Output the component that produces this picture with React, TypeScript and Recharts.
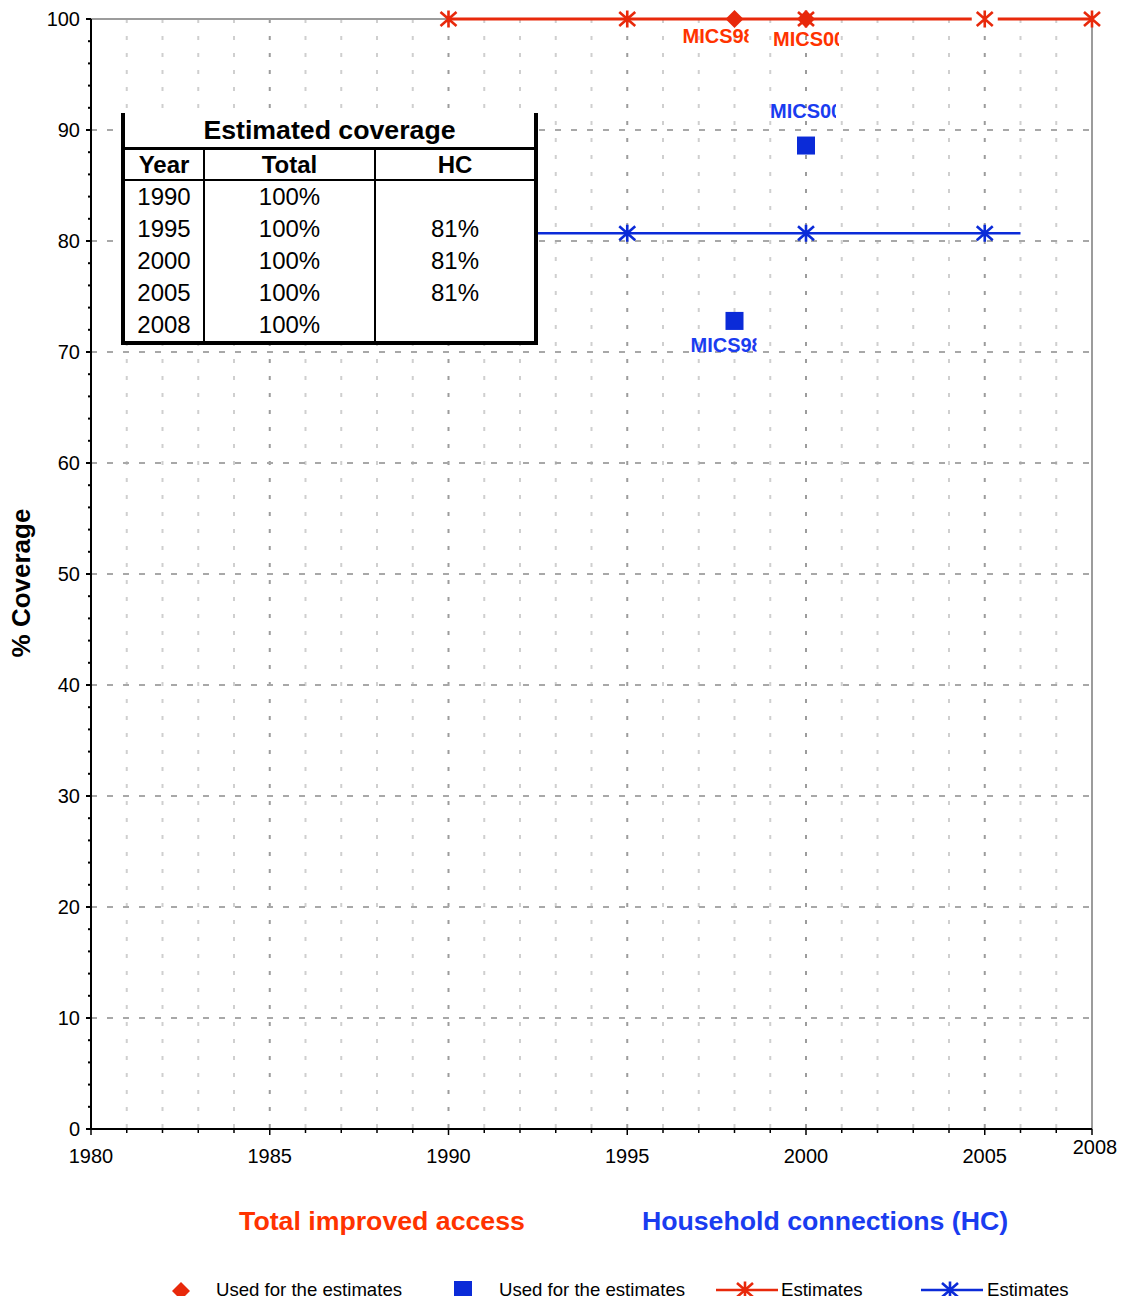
import React from "react";
import { ComposedChart, Line, XAxis, YAxis, CartesianGrid } from "recharts";

const RED = "#e8290b";
const BLUE = "#0b2bd8";
const RED_TEXT = "#ff3300";
const BLUE_TEXT = "#1a3cf0";
const FONT = "Arial, 'Liberation Sans', Helvetica, sans-serif";

// axis ticks
const YEARS = [
  1980, 1981, 1982, 1983, 1984, 1985, 1986, 1987, 1988, 1989, 1990, 1991,
  1992, 1993, 1994, 1995, 1996, 1997, 1998, 1999, 2000, 2001, 2002, 2003,
  2004, 2005, 2006, 2007, 2008,
];
const YEAR_LABELS = [1980, 1985, 1990, 1995, 2000, 2005, 2008];
const MAJOR_YEARS = [1985, 1990, 1995, 2000, 2005];
const MINOR_YEARS = YEARS.filter(
  (y) => y !== 1980 && y !== 2008 && !MAJOR_YEARS.includes(y)
);
const Y_TICKS = [
  0, 2, 4, 6, 8, 10, 12, 14, 16, 18, 20, 22, 24, 26, 28, 30, 32, 34, 36, 38,
  40, 42, 44, 46, 48, 50, 52, 54, 56, 58, 60, 62, 64, 66, 68, 70, 72, 74, 76,
  78, 80, 82, 84, 86, 88, 90, 92, 94, 96, 98, 100,
];
const Y_LABELS = [0, 10, 20, 30, 40, 50, 60, 70, 80, 90, 100];
const Y_GRID = [10, 20, 30, 40, 50, 60, 70, 80, 90];

// series
const TOTAL_ESTIMATES = [
  { year: 1990, value: 100 },
  { year: 1995, value: 100 },
  { year: 2000, value: 100 },
  { year: 2005, value: 100 },
  { year: 2008, value: 100 },
];
const TOTAL_SOURCES = [
  { year: 1998, value: 100, name: "MICS98" },
  { year: 2000, value: 100, name: "MICS00" },
];
const HC_ESTIMATES = [
  { year: 1990, value: 80.7 },
  { year: 1995, value: 80.7 },
  { year: 2000, value: 80.7 },
  { year: 2005, value: 80.7 },
  { year: 2006, value: 80.7 },
];
const HC_MARKED_YEARS = [1995, 2000, 2005];
const HC_SOURCES = [
  { year: 1998, value: 72.8, name: "MICS98" },
  { year: 2000, value: 88.6, name: "MICS00" },
];

// table
const TABLE_YEARS = ["1990", "1995", "2000", "2005", "2008"];
const TABLE_TOTAL = ["100%", "100%", "100%", "100%", "100%"];
const TABLE_HC = ["", "81%", "81%", "81%", ""];

// label placement (dx, dy from the point), and where the red line is broken
const LABEL_OFFSET: Record<string, [number, number]> = {
  "total-MICS98": [-52, 24],
  "total-MICS00": [-33, 27],
  "hc-MICS00": [-36, -28],
  "hc-MICS98": [-44, 31],
};
const RED_LINE_BREAKS = [2005];

function starPath(cx: number, cy: number) {
  return `M${cx} ${cy - 8.5}L${cx} ${cy + 8.5}M${cx - 8} ${cy - 7}L${cx + 8} ${cy + 7}M${cx - 8} ${cy + 7}L${cx + 8} ${cy - 7}`;
}

function SourceLabel({ x, y, text, color }: { x: number; y: number; text: string; color: string }) {
  // the original clips the source names to a fixed box
  return (
    <svg x={x} y={y - 18} width={66} height={24} overflow="hidden">
      <text x={0} y={18} fontSize={20} fontWeight={700} fill={color} fontFamily={FONT}>
        {text}
      </text>
    </svg>
  );
}

function TotalEstDot(props: any) {
  const { cx, cy, payload } = props;
  if (cx == null || cy == null) return <g key="te-none" />;
  return (
    <g key={`te-${payload.year}`}>
      {RED_LINE_BREAKS.includes(payload.year) && (
        <rect x={cx - 13} y={cy - 3} width={26} height={6} fill="#fff" />
      )}
      <path d={starPath(cx, cy)} stroke={RED} strokeWidth={2.6} fill="none" />
    </g>
  );
}

function HcEstDot(props: any) {
  const { cx, cy, payload } = props;
  if (cx == null || cy == null || !HC_MARKED_YEARS.includes(payload.year))
    return <g key={`he-${payload?.year}`} />;
  return (
    <path key={`he-${payload.year}`} d={starPath(cx, cy)} stroke={BLUE} strokeWidth={2.6} fill="none" />
  );
}

function TotalSourceDot(props: any) {
  const { cx, cy, payload } = props;
  if (cx == null || cy == null) return <g key="ts-none" />;
  const [dx, dy] = LABEL_OFFSET[`total-${payload.name}`] ?? [0, 24];
  return (
    <g key={`ts-${payload.name}`}>
      <path d={`M${cx} ${cy - 9}L${cx + 9} ${cy}L${cx} ${cy + 9}L${cx - 9} ${cy}Z`} fill={RED} />
      <SourceLabel x={cx + dx} y={cy + dy} text={payload.name} color={RED_TEXT} />
    </g>
  );
}

function HcSourceDot(props: any) {
  const { cx, cy, payload } = props;
  if (cx == null || cy == null) return <g key="hs-none" />;
  const [dx, dy] = LABEL_OFFSET[`hc-${payload.name}`] ?? [0, 24];
  return (
    <g key={`hs-${payload.name}`}>
      <rect x={cx - 9} y={cy - 9} width={18} height={18} fill={BLUE} />
      <SourceLabel x={cx + dx} y={cy + dy} text={payload.name} color={BLUE_TEXT} />
    </g>
  );
}

function XTick(props: any) {
  const { x, y, payload } = props;
  const v = payload.value as number;
  const major = v % 5 === 0 || v === 2008;
  return (
    <g>
      <line x1={x} x2={x} y1={y} y2={y + (major ? 6 : 4)} stroke="#000" strokeWidth={1.5} />
      {YEAR_LABELS.includes(v) && (
        <text
          x={v === 2008 ? x + 3 : x}
          y={y + (v === 2008 ? 25 : 34)}
          textAnchor="middle"
          fontSize={20}
          fill="#000"
          fontFamily={FONT}
        >
          {v}
        </text>
      )}
    </g>
  );
}

function YTick(props: any) {
  const { x, y, payload } = props;
  const v = payload.value as number;
  const major = Y_LABELS.includes(v);
  return (
    <g>
      <line x1={x - (major ? 5 : 3)} x2={x} y1={y} y2={y} stroke="#000" strokeWidth={2} />
      {major && (
        <text x={x - 11} y={y + 7} textAnchor="end" fontSize={20} fill="#000" fontFamily={FONT}>
          {v}
        </text>
      )}
    </g>
  );
}

function CoverageTable() {
  const cols = [78, 169, 158];
  const cell = (i: number, text: string, bold = false) => (
    <div
      key={i}
      style={{
        width: cols[i],
        borderRight: i < 2 ? "2px solid #000" : "none",
        textAlign: "center",
        fontWeight: bold ? 700 : 400,
      }}
    >
      {text}
    </div>
  );
  return (
    <div
      style={{
        position: "absolute",
        left: 121,
        top: 113,
        width: 417,
        boxSizing: "border-box",
        borderLeft: "4px solid #000",
        borderRight: "4px solid #000",
        borderBottom: "4px solid #000",
        background: "#fff",
        fontFamily: FONT,
        color: "#000",
      }}
    >
      <div
        style={{
          height: 34,
          lineHeight: "34px",
          textAlign: "center",
          fontWeight: 700,
          fontSize: 26.7,
          borderBottom: "3px solid #000",
        }}
      >
        Estimated coverage
      </div>
      <div
        style={{
          display: "flex",
          height: 29,
          lineHeight: "29px",
          fontSize: 24,
          borderBottom: "2px solid #000",
        }}
      >
        {cell(0, "Year", true)}
        {cell(1, "Total", true)}
        {cell(2, "HC", true)}
      </div>
      {TABLE_YEARS.map((yr, r) => (
        <div key={yr} style={{ display: "flex", height: 32, lineHeight: "32px", fontSize: 24 }}>
          {cell(0, yr)}
          {cell(1, TABLE_TOTAL[r])}
          {cell(2, TABLE_HC[r])}
        </div>
      ))}
    </div>
  );
}

function LegendStarLine({ left, color }: { left: number; color: string }) {
  return (
    <svg style={{ position: "absolute", left, top: 1280 }} width={62} height={20}>
      <line x1={0} x2={62} y1={10} y2={10} stroke={color} strokeWidth={2.6} />
      <path d={starPath(29, 10)} stroke={color} strokeWidth={2.6} fill="none" />
    </svg>
  );
}

const legendText = (left: number, text: string) => (
  <div
    style={{
      position: "absolute",
      left,
      top: 1290,
      transform: "translateY(-50%)",
      fontSize: 18.6,
      lineHeight: 1,
      whiteSpace: "nowrap",
    }}
  >
    {text}
  </div>
);

export default function App() {
  return (
    <div
      style={{
        position: "relative",
        margin: -8,
        width: 1127,
        height: 1304,
        background: "#fff",
        fontFamily: FONT,
        color: "#000",
        overflow: "hidden",
      }}
    >
      <ComposedChart width={1127} height={1175} margin={{ top: 19, right: 35, bottom: 0, left: 0 }}>
        <CartesianGrid horizontal={false} verticalValues={MINOR_YEARS} stroke="#cfcfcf" strokeWidth={2} strokeDasharray="4 13" />
        <CartesianGrid horizontal={false} verticalValues={MAJOR_YEARS} stroke="#9c9c9c" strokeWidth={2} strokeDasharray="4 13" />
        <CartesianGrid vertical={false} horizontalValues={Y_GRID} stroke="#a8a8a8" strokeWidth={2} strokeDasharray="6 10" />
        <CartesianGrid horizontalValues={[100]} verticalValues={[2008]} stroke="#9c9c9c" strokeWidth={2} />
        <XAxis
          type="number"
          dataKey="year"
          domain={[1980, 2008]}
          ticks={YEARS}
          interval={0}
          height={46}
          tickSize={0}
          tickMargin={0}
          tickLine={false}
          axisLine={{ stroke: "#000", strokeWidth: 2 }}
          tick={(p: any) => <XTick {...p} />}
        />
        <YAxis
          type="number"
          domain={[0, 100]}
          ticks={Y_TICKS}
          interval={0}
          width={91}
          tickSize={0}
          tickMargin={0}
          tickLine={false}
          axisLine={{ stroke: "#000", strokeWidth: 2 }}
          tick={(p: any) => <YTick {...p} />}
        />
        <Line
          data={HC_ESTIMATES}
          dataKey="value"
          type="linear"
          stroke={BLUE}
          strokeWidth={2.6}
          dot={HcEstDot}
          activeDot={false}
          isAnimationActive={false}
        />
        <Line
          data={HC_SOURCES}
          dataKey="value"
          stroke="none"
          dot={HcSourceDot}
          activeDot={false}
          isAnimationActive={false}
        />
        <Line
          data={TOTAL_ESTIMATES}
          dataKey="value"
          type="linear"
          stroke={RED}
          strokeWidth={3}
          dot={TotalEstDot}
          activeDot={false}
          isAnimationActive={false}
        />
        <Line
          data={TOTAL_SOURCES}
          dataKey="value"
          stroke="none"
          dot={TotalSourceDot}
          activeDot={false}
          isAnimationActive={false}
        />
      </ComposedChart>

      <CoverageTable />

      <div
        style={{
          position: "absolute",
          left: 21,
          top: 583,
          transform: "translate(-50%, -50%) rotate(-90deg)",
          fontSize: 26,
          fontWeight: 700,
          whiteSpace: "nowrap",
        }}
      >
        % Coverage
      </div>

      <div
        style={{
          position: "absolute",
          left: 382,
          top: 1221,
          transform: "translate(-50%, -50%)",
          fontSize: 26.7,
          fontWeight: 700,
          color: RED_TEXT,
          whiteSpace: "nowrap",
        }}
      >
        Total improved access
      </div>
      <div
        style={{
          position: "absolute",
          left: 825,
          top: 1221,
          transform: "translate(-50%, -50%)",
          fontSize: 26.7,
          fontWeight: 700,
          color: BLUE_TEXT,
          whiteSpace: "nowrap",
        }}
      >
        Household connections (HC)
      </div>

      <svg style={{ position: "absolute", left: 171, top: 1281 }} width={20} height={20}>
        <path d="M10 1L19 10L10 19L1 10Z" fill={RED} />
      </svg>
      {legendText(216, "Used for the estimates")}
      <svg style={{ position: "absolute", left: 454, top: 1281 }} width={19} height={19}>
        <rect x={0} y={0} width={18} height={18} fill={BLUE} />
      </svg>
      {legendText(499, "Used for the estimates")}
      <LegendStarLine left={716} color={RED} />
      {legendText(781, "Estimates")}
      <LegendStarLine left={921} color={BLUE} />
      {legendText(987, "Estimates")}
    </div>
  );
}
